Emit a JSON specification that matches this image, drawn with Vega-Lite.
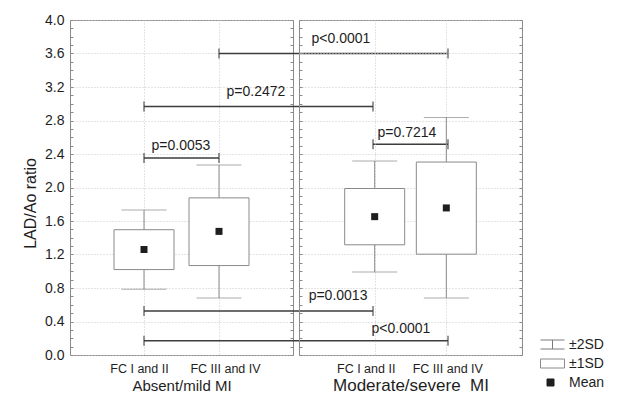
{
  "$schema": "https://vega.github.io/schema/vega-lite/v6.json",
  "background": "white",
  "padding": {"left": 22, "top": 12, "right": 5, "bottom": 2},
  "spacing": 6,
  "bounds": "flush",
  "config": {
    "font": "Liberation Sans",
    "view": {"stroke": "#8a8a8a", "strokeWidth": 1},
    "axis": {"labelFont": "Liberation Sans", "titleFont": "Liberation Sans", "labelColor": "#1e1e1e", "titleColor": "#1e1e1e", "titleFontWeight": "normal", "domain": false}
  },
  "datasets": {
    "groups": [
      {"severity": "Absent/mild MI", "fc": "FC I and II", "g": 1, "lo2": 0.784, "lo1": 1.02, "mean": 1.26, "hi1": 1.496, "hi2": 1.73},
      {"severity": "Absent/mild MI", "fc": "FC III and IV", "g": 2, "lo2": 0.68, "lo1": 1.068, "mean": 1.476, "hi1": 1.876, "hi2": 2.268},
      {"severity": "Moderate/severe MI", "fc": "FC I and II", "g": 3, "lo2": 0.992, "lo1": 1.316, "mean": 1.652, "hi1": 1.988, "hi2": 2.316},
      {"severity": "Moderate/severe MI", "fc": "FC III and IV", "g": 4, "lo2": 0.68, "lo1": 1.204, "mean": 1.756, "hi1": 2.304, "hi2": 2.836}
    ],
    "brackets": [
      {"p": "p<0.0001", "from": 2, "to": 4, "level": 3.6, "lx": 2.792, "ly": 3.776},
      {"p": "p=0.2472", "from": 1, "to": 3, "level": 2.966, "lx": 2.24, "ly": 3.14},
      {"p": "p=0.0053", "from": 1, "to": 2, "level": 2.352, "lx": 1.493, "ly": 2.499},
      {"p": "p=0.7214", "from": 3, "to": 4, "level": 2.516, "lx": 3.453, "ly": 2.654},
      {"p": "p=0.0013", "from": 1, "to": 3, "level": 0.525, "lx": 2.773, "ly": 0.704},
      {"p": "p<0.0001", "from": 1, "to": 4, "level": 0.171, "lx": 3.373, "ly": 0.316}
    ],
    "legend": [{"leg": "±2SD"}, {"leg": "±1SD"}, {"leg": "Mean"}]
  },
  "hconcat": [
    {
      "width": 223,
      "height": 335,
      "resolve": {"axis": {"x": "independent", "y": "independent"}},
      "layer": [
        {
          "data": {"name": "groups"},
          "transform": [{"filter": "datum.g <= 2"}],
          "mark": {"type": "rule", "color": "#8a8a8a", "strokeWidth": 1},
          "encoding": {
            "x": {"field": "g", "type": "quantitative", "scale": {"domain": [0.0133, 1, 2, 3, 4, 4.5], "range": [0, 74, 149, 303, 378, 223], "nice": false, "zero": false},
              "axis": {"values": [1, 2], "labelExpr": "datum.value == 1 ? 'FC I and II' : 'FC III and IV'", "ticks": false, "labelFontSize": 12.5, "labelPadding": 7, "labelOffset": {"condition": {"test": "datum.value == 1", "value": -5}, "value": 6}, "labelOverlap": false, "labelFlush": false, "grid": true, "gridColor": "#c8c8c8", "gridDash": [1, 2], "title": "Absent/mild MI", "titleFontSize": 15, "titlePadding": 4, "domain": false}},
            "y": {"field": "lo2", "type": "quantitative", "scale": {"domain": [0, 4], "nice": false},
              "axis": {"orient": "left", "values": [0,0.1,0.2,0.3,0.4,0.5,0.6,0.7,0.8,0.9,1,1.1,1.2,1.3,1.4,1.5,1.6,1.7,1.8,1.9,2,2.1,2.2,2.3,2.4,2.5,2.6,2.7,2.8,2.9,3,3.1,3.2,3.3,3.4,3.5,3.6,3.7,3.8,3.9,4], "labelExpr": "round(datum.value*10) % 4 == 0 ? format(datum.value, '.1f') : ''", "labelFontSize": 14, "labelPadding": 9, "labelOverlap": false, "labelFlush": false, "tickSize": -3, "tickColor": "#8a8a8a", "grid": true, "gridColor": "#c8c8c8", "gridDash": [1, 2], "gridOpacity": {"condition": {"test": "round(datum.value*10) % 4 == 0", "value": 1}, "value": 0}, "title": "LAD/Ao ratio", "titleFontSize": 16, "titlePadding": 6, "titleY": 183, "domain": false}},
            "y2": {"field": "hi2"}
          }
        },
        {
          "data": {"name": "groups"},
          "transform": [{"filter": "datum.g <= 2"}],
          "mark": {"type": "tick", "orient": "horizontal", "size": 45, "thickness": 1, "color": "#8a8a8a"},
          "encoding": {
            "x": {"field": "g", "type": "quantitative", "scale": {"domain": [0.0133, 1, 2, 3, 4, 4.5], "range": [0, 74, 149, 303, 378, 223], "nice": false, "zero": false}, "axis": null},
            "y": {"field": "lo2", "type": "quantitative", "scale": {"domain": [0, 4], "nice": false}, "axis": null}
          }
        },
        {
          "data": {"name": "groups"},
          "transform": [{"filter": "datum.g <= 2"}],
          "mark": {"type": "tick", "orient": "horizontal", "size": 45, "thickness": 1, "color": "#8a8a8a"},
          "encoding": {
            "x": {"field": "g", "type": "quantitative", "scale": {"domain": [0.0133, 1, 2, 3, 4, 4.5], "range": [0, 74, 149, 303, 378, 223], "nice": false, "zero": false}, "axis": null},
            "y": {"field": "hi2", "type": "quantitative", "scale": {"domain": [0, 4], "nice": false}, "axis": null}
          }
        },
        {
          "data": {"name": "groups"},
          "transform": [{"filter": "datum.g <= 2"}],
          "mark": {"type": "bar", "size": 60, "fill": "white", "stroke": "#8a8a8a", "strokeWidth": 1},
          "encoding": {
            "x": {"field": "g", "type": "quantitative", "scale": {"domain": [0.0133, 1, 2, 3, 4, 4.5], "range": [0, 74, 149, 303, 378, 223], "nice": false, "zero": false}, "axis": null},
            "y": {"field": "lo1", "type": "quantitative", "scale": {"domain": [0, 4], "nice": false}, "axis": null},
            "y2": {"field": "hi1"}
          }
        },
        {
          "data": {"name": "groups"},
          "transform": [{"filter": "datum.g <= 2"}],
          "mark": {"type": "square", "size": 49, "filled": true, "color": "#1e1e1e", "opacity": 1},
          "encoding": {
            "x": {"field": "g", "type": "quantitative", "scale": {"domain": [0.0133, 1, 2, 3, 4, 4.5], "range": [0, 74, 149, 303, 378, 223], "nice": false, "zero": false}, "axis": null},
            "y": {"field": "mean", "type": "quantitative", "scale": {"domain": [0, 4], "nice": false}, "axis": null}
          }
        },
        {
          "data": {"name": "brackets"},
          "mark": {"type": "rule", "color": "#3c3c3c", "strokeWidth": 1.5},
          "encoding": {
            "x": {"field": "from", "type": "quantitative", "scale": {"domain": [0.0133, 1, 2, 3, 4, 4.5], "range": [0, 74, 149, 303, 378, 223], "nice": false, "zero": false}, "axis": null},
            "x2": {"field": "to"},
            "y": {"field": "level", "type": "quantitative", "scale": {"domain": [0, 4], "nice": false},
              "axis": {"orient": "right", "values": [0,0.1,0.2,0.3,0.4,0.5,0.6,0.7,0.8,0.9,1,1.1,1.2,1.3,1.4,1.5,1.6,1.7,1.8,1.9,2,2.1,2.2,2.3,2.4,2.5,2.6,2.7,2.8,2.9,3,3.1,3.2,3.3,3.4,3.5,3.6,3.7,3.8,3.9,4], "labels": false, "tickSize": -3, "tickColor": "#8a8a8a", "grid": false, "title": null, "domain": false}}
          }
        },
        {
          "data": {"name": "brackets"},
          "mark": {"type": "tick", "orient": "vertical", "size": 10, "thickness": 1.5, "color": "#3c3c3c"},
          "encoding": {
            "x": {"field": "from", "type": "quantitative", "scale": {"domain": [0.0133, 1, 2, 3, 4, 4.5], "range": [0, 74, 149, 303, 378, 223], "nice": false, "zero": false}, "axis": null},
            "y": {"field": "level", "type": "quantitative", "scale": {"domain": [0, 4], "nice": false}, "axis": null}
          }
        },
        {
          "data": {"name": "brackets"},
          "mark": {"type": "tick", "orient": "vertical", "size": 10, "thickness": 1.5, "color": "#3c3c3c"},
          "encoding": {
            "x": {"field": "to", "type": "quantitative", "scale": {"domain": [0.0133, 1, 2, 3, 4, 4.5], "range": [0, 74, 149, 303, 378, 223], "nice": false, "zero": false}, "axis": null},
            "y": {"field": "level", "type": "quantitative", "scale": {"domain": [0, 4], "nice": false}, "axis": null}
          }
        },
        {
          "data": {"name": "brackets"},
          "mark": {"type": "text", "fontSize": 14, "color": "#1e1e1e", "align": "center", "baseline": "middle"},
          "encoding": {
            "x": {"field": "lx", "type": "quantitative", "scale": {"domain": [0.0133, 1, 2, 3, 4, 4.5], "range": [0, 74, 149, 303, 378, 223], "nice": false, "zero": false}, "axis": null},
            "y": {"field": "ly", "type": "quantitative", "scale": {"domain": [0, 4], "nice": false}, "axis": null},
            "text": {"field": "p"}
          }
        }
      ]
    },
    {
      "width": 223,
      "height": 335,
      "resolve": {"axis": {"x": "independent", "y": "independent"}},
      "layer": [
        {
          "data": {"name": "groups"},
          "transform": [{"filter": "datum.g >= 3"}],
          "mark": {"type": "rule", "color": "#8a8a8a", "strokeWidth": 1},
          "encoding": {
            "x": {"field": "g", "type": "quantitative", "scale": {"domain": [2.0133, 4.9867], "nice": false, "zero": false},
              "axis": {"values": [3, 4], "labelExpr": "datum.value == 3 ? 'FC I and II' : 'FC III and IV'", "ticks": false, "labelFontSize": 12.5, "labelPadding": 7, "labelOffset": {"condition": {"test": "datum.value == 3", "value": -9}, "value": 1}, "labelOverlap": false, "labelFlush": false, "grid": true, "gridColor": "#c8c8c8", "gridDash": [1, 2], "title": "Moderate/severe\u00a0 MI", "titleFontSize": 17, "titlePadding": 3, "domain": false}},
            "y": {"field": "lo2", "type": "quantitative", "scale": {"domain": [0, 4], "nice": false},
              "axis": {"orient": "left", "values": [0,0.1,0.2,0.3,0.4,0.5,0.6,0.7,0.8,0.9,1,1.1,1.2,1.3,1.4,1.5,1.6,1.7,1.8,1.9,2,2.1,2.2,2.3,2.4,2.5,2.6,2.7,2.8,2.9,3,3.1,3.2,3.3,3.4,3.5,3.6,3.7,3.8,3.9,4], "labels": false, "tickSize": -3, "tickColor": "#8a8a8a", "grid": true, "gridColor": "#c8c8c8", "gridDash": [1, 2], "gridOpacity": {"condition": {"test": "round(datum.value*10) % 4 == 0", "value": 1}, "value": 0}, "title": null, "domain": false}},
            "y2": {"field": "hi2"}
          }
        },
        {
          "data": {"name": "groups"},
          "transform": [{"filter": "datum.g >= 3"}],
          "mark": {"type": "tick", "orient": "horizontal", "size": 45, "thickness": 1, "color": "#8a8a8a"},
          "encoding": {
            "x": {"field": "g", "type": "quantitative", "scale": {"domain": [2.0133, 4.9867], "nice": false, "zero": false}, "axis": null},
            "y": {"field": "lo2", "type": "quantitative", "scale": {"domain": [0, 4], "nice": false},
              "axis": {"orient": "right", "values": [0,0.1,0.2,0.3,0.4,0.5,0.6,0.7,0.8,0.9,1,1.1,1.2,1.3,1.4,1.5,1.6,1.7,1.8,1.9,2,2.1,2.2,2.3,2.4,2.5,2.6,2.7,2.8,2.9,3,3.1,3.2,3.3,3.4,3.5,3.6,3.7,3.8,3.9,4], "labels": false, "tickSize": -3, "tickColor": "#8a8a8a", "grid": false, "title": null, "domain": false}}
          }
        },
        {
          "data": {"name": "groups"},
          "transform": [{"filter": "datum.g >= 3"}],
          "mark": {"type": "tick", "orient": "horizontal", "size": 45, "thickness": 1, "color": "#8a8a8a"},
          "encoding": {
            "x": {"field": "g", "type": "quantitative", "scale": {"domain": [2.0133, 4.9867], "nice": false, "zero": false}, "axis": null},
            "y": {"field": "hi2", "type": "quantitative", "scale": {"domain": [0, 4], "nice": false}, "axis": null}
          }
        },
        {
          "data": {"name": "groups"},
          "transform": [{"filter": "datum.g >= 3"}],
          "mark": {"type": "bar", "size": 60, "fill": "white", "stroke": "#8a8a8a", "strokeWidth": 1},
          "encoding": {
            "x": {"field": "g", "type": "quantitative", "scale": {"domain": [2.0133, 4.9867], "nice": false, "zero": false}, "axis": null},
            "y": {"field": "lo1", "type": "quantitative", "scale": {"domain": [0, 4], "nice": false}, "axis": null},
            "y2": {"field": "hi1"}
          }
        },
        {
          "data": {"name": "groups"},
          "transform": [{"filter": "datum.g >= 3"}],
          "mark": {"type": "square", "size": 49, "filled": true, "color": "#1e1e1e", "opacity": 1},
          "encoding": {
            "x": {"field": "g", "type": "quantitative", "scale": {"domain": [2.0133, 4.9867], "nice": false, "zero": false}, "axis": null},
            "y": {"field": "mean", "type": "quantitative", "scale": {"domain": [0, 4], "nice": false}, "axis": null}
          }
        },
        {
          "data": {"name": "legend"},
          "mark": {"type": "point", "filled": true, "clip": true, "size": 324, "strokeWidth": 1, "opacity": 1},
          "encoding": {
            "x": {"datum": 3.5, "type": "quantitative", "scale": {"domain": [2.0133, 4.9867], "nice": false, "zero": false}, "axis": null},
            "y": {"datum": -1, "type": "quantitative", "scale": {"domain": [0, 4], "nice": false}, "axis": null},
            "shape": {"field": "leg", "type": "nominal",
              "scale": {"domain": ["±2SD", "±1SD", "Mean"], "range": ["M-1.333,-0.5H1.333M0,-0.5V0.5M-1.333,0.5H1.333", "M-1.333,-0.5H1.333V0.5H-1.333Z", "M-0.611,-0.389H0.167V0.389H-0.611Z"]},
              "legend": {"orient": "none", "legendX": 473, "legendY": 315, "title": null, "padding": 0, "rowPadding": 2, "symbolSize": 324, "symbolStrokeWidth": 1, "labelFontSize": 14, "labelOffset": 7, "labelColor": "#1e1e1e", "labelFont": "Liberation Sans"}},
            "fill": {"field": "leg", "type": "nominal",
              "scale": {"domain": ["±2SD", "±1SD", "Mean"], "range": ["white", "white", "#1e1e1e"]},
              "legend": {"orient": "none", "legendX": 473, "legendY": 315, "title": null, "padding": 0, "rowPadding": 2, "symbolSize": 324, "symbolStrokeWidth": 1, "labelFontSize": 14, "labelOffset": 7, "labelColor": "#1e1e1e", "labelFont": "Liberation Sans"}},
            "stroke": {"field": "leg", "type": "nominal",
              "scale": {"domain": ["±2SD", "±1SD", "Mean"], "range": ["#7a7a7a", "#8a8a8a", "#1e1e1e"]},
              "legend": {"orient": "none", "legendX": 473, "legendY": 315, "title": null, "padding": 0, "rowPadding": 2, "symbolSize": 324, "symbolStrokeWidth": 1, "labelFontSize": 14, "labelOffset": 7, "labelColor": "#1e1e1e", "labelFont": "Liberation Sans"}}
          }
        }
      ]
    }
  ]
}
